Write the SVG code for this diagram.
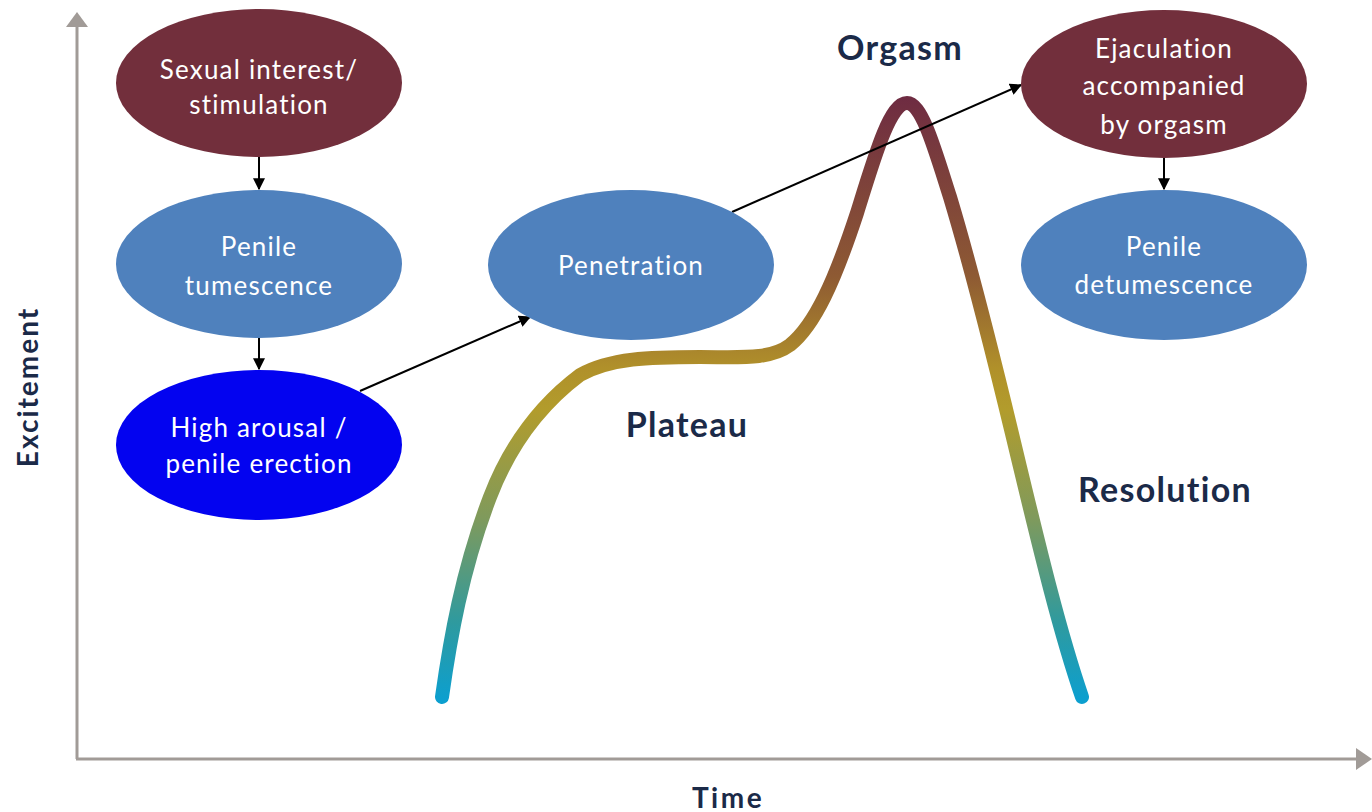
<svg xmlns="http://www.w3.org/2000/svg" width="1372" height="812" viewBox="0 0 1372 812">
<style>
.maroon{fill:#722f3c}
.steel{fill:#4f81bd}
.blue{fill:#0303f0}
.nt{font-family:Lato,"Open Sans",sans-serif;font-size:26px;letter-spacing:1.2px;fill:#ffffff;text-anchor:middle}
.lbl{font-family:Lato,"Open Sans",sans-serif;font-weight:bold;fill:#1b2a48;text-anchor:middle}
.big{font-size:34px;letter-spacing:1.3px}
.conn{stroke:#000;stroke-width:2;fill:none;marker-end:url(#ah)}
.axis{stroke:#a19b97;stroke-width:3;fill:none}
</style>
<defs>
<marker id="ah" viewBox="0 0 10 10" refX="9" refY="5" markerWidth="6" markerHeight="6" orient="auto" markerUnits="strokeWidth">
<path d="M0,0 L10,5 L0,10 z" fill="#000"/>
</marker>
<linearGradient id="cg" gradientUnits="userSpaceOnUse" x1="0" y1="95" x2="0" y2="700">
<stop offset="0" stop-color="#6e2b42"/>
<stop offset="0.3" stop-color="#8e5a33"/>
<stop offset="0.45" stop-color="#b0902a"/>
<stop offset="0.52" stop-color="#b29c2c"/>
<stop offset="0.7" stop-color="#7f9a5c"/>
<stop offset="0.87" stop-color="#2f9a9e"/>
<stop offset="1" stop-color="#0c9fcf"/>
</linearGradient>
</defs>
<rect width="1372" height="812" fill="#ffffff"/>
<g id="axes">
<line class="axis" x1="77" y1="759" x2="77" y2="24"/>
<path d="M66,27 L77,12 L88,27 z" fill="#a19b97"/>
<line class="axis" x1="76" y1="759" x2="1358" y2="759"/>
<path d="M1356,748 L1372,759 L1356,770 z" fill="#a19b97"/>
<text class="lbl" font-size="28" letter-spacing="2" transform="translate(38,387) rotate(-90)">Excitement</text>
<text class="lbl" font-size="28" letter-spacing="2.5" x="728" y="808">Time</text>
</g>
<g id="curve">
<path d="M442,697 C450,640 462,570 490,497 C510,445 540,405 580,375 C610,358 650,357 700,357 C740,357 770,360 790,345 C815,325 835,280 857,213 C875,155 890,103 907,103 C922,103 935,150 950,197 C975,280 1000,383 1020,467 C1040,550 1060,633 1082,697" fill="none" stroke="url(#cg)" stroke-width="14" stroke-linecap="round" stroke-linejoin="round"/>
</g>
<g id="labels">
<text class="lbl big" x="900" y="60">Orgasm</text>
<text class="lbl big" x="687" y="437">Plateau</text>
<text class="lbl big" x="1165" y="502">Resolution</text>
</g>
<g id="connectors">
<line class="conn" x1="259" y1="157" x2="259" y2="189"/>
<line class="conn" x1="259" y1="338" x2="259" y2="369"/>
<line class="conn" x1="360" y1="391" x2="530" y2="317"/>
<line class="conn" x1="732" y1="212" x2="1021" y2="85"/>
<line class="conn" x1="1164" y1="158" x2="1164" y2="189"/>
</g>
<g id="n1">
<ellipse class="maroon" cx="259" cy="83" rx="143" ry="74"/>
<text class="nt" x="259" y="79">Sexual interest/</text>
<text class="nt" x="259" y="114">stimulation</text>
</g>
<g id="n2">
<ellipse class="steel" cx="259" cy="264" rx="143" ry="74"/>
<text class="nt" x="259" y="256">Penile</text>
<text class="nt" x="259" y="295">tumescence</text>
</g>
<g id="n3">
<ellipse class="blue" cx="259" cy="445" rx="143" ry="75"/>
<text class="nt" x="259" y="437">High arousal /</text>
<text class="nt" x="259" y="473">penile erection</text>
</g>
<g id="n4">
<ellipse class="steel" cx="631" cy="265" rx="143" ry="75"/>
<text class="nt" x="631" y="275">Penetration</text>
</g>
<g id="n5">
<ellipse class="maroon" cx="1164" cy="84" rx="143" ry="74"/>
<text class="nt" x="1164" y="58">Ejaculation</text>
<text class="nt" x="1164" y="95">accompanied</text>
<text class="nt" x="1164" y="134">by orgasm</text>
</g>
<g id="n6">
<ellipse class="steel" cx="1164" cy="265" rx="143" ry="75"/>
<text class="nt" x="1164" y="256">Penile</text>
<text class="nt" x="1164" y="294">detumescence</text>
</g>
</svg>
